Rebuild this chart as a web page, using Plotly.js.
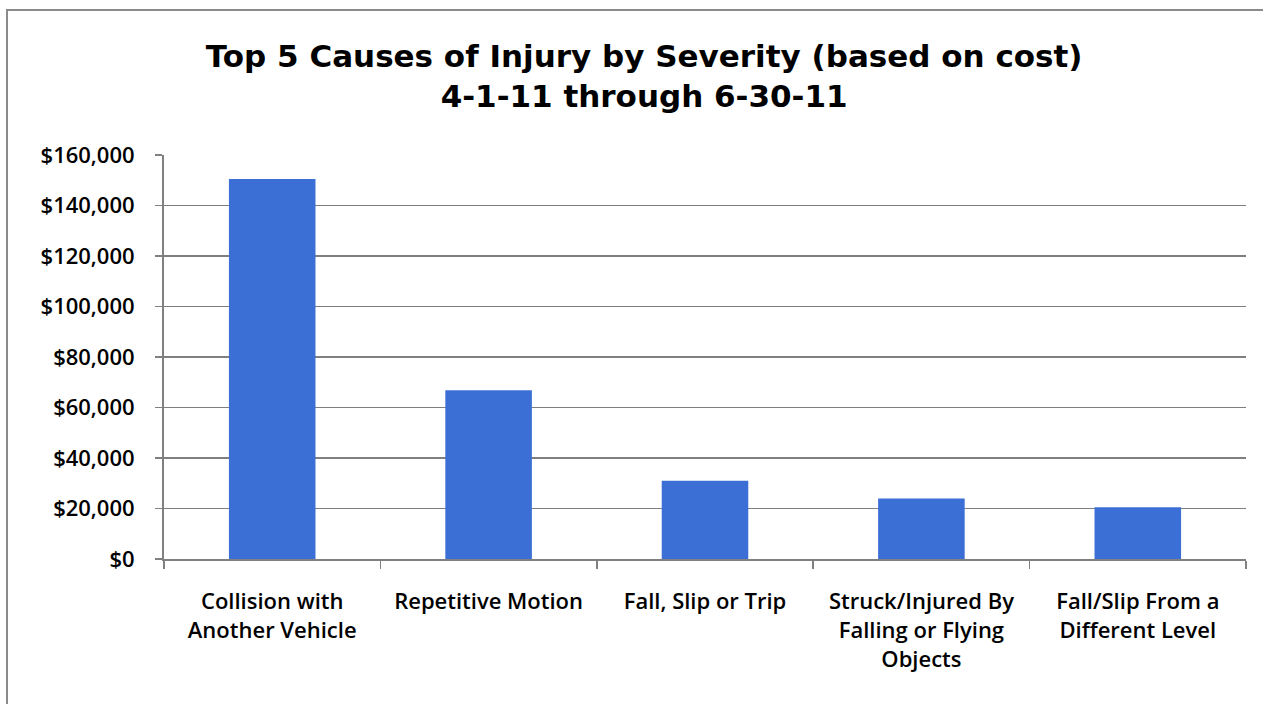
<!DOCTYPE html>
<html>
<head>
<meta charset="utf-8">
<script src="https://cdn.plot.ly/plotly-3.0.1.min.js"></script>
<style>
  html, body { margin: 0; padding: 0; background: #ffffff; overflow: hidden; }
  #chart { width: 1263px; height: 704px; }
  #frame { position: absolute; left: 6px; top: 9px; width: 1300px; height: 800px;
           border: 2px solid #8a8a8a; pointer-events: none; }
</style>
</head>
<body>
<div id="chart"></div>
<div id="frame"></div>
<script>
const categories = [
  "Collision with<br>Another Vehicle",
  "Repetitive Motion",
  "Fall, Slip or Trip",
  "Struck/Injured By<br>Falling or Flying<br>Objects",
  "Fall/Slip From a<br>Different Level"
];
const costs = [150500, 66800, 31000, 24000, 20500];
const yTickValues = [0, 20000, 40000, 60000, 80000, 100000, 120000, 140000, 160000];
const yTickLabels = ["$0", "$20,000", "$40,000", "$60,000", "$80,000", "$100,000", "$120,000", "$140,000", "$160,000"];
const titleText = "Top 5 Causes of Injury by Severity (based on cost)<br>4-1-11 through 6-30-11";

const trace = {
  type: "bar",
  x: categories,
  y: costs,
  marker: { color: "#3c6fd5", line: { width: 0 } },
  hoverinfo: "x+y"
};

const layout = {
  width: 1263,
  height: 704,
  paper_bgcolor: "#ffffff",
  plot_bgcolor: "#ffffff",
  margin: { l: 164, r: 17, t: 155, b: 145 },
  bargap: 0.6,
  showlegend: false,
  title: {
    text: titleText,
    font: { family: "DejaVu Sans, sans-serif", size: 31, color: "#000000", weight: "bold", lineposition: "none" },
    x: 0.51, xanchor: "center",
    y: 1 - 67 / 704, yanchor: "top", yref: "container"
  },
  xaxis: {
    type: "category",
    showgrid: false,
    showline: true,
    linecolor: "#808080",
    linewidth: 2,
    ticks: "outside",
    tickson: "boundaries",
    ticklen: 8,
    tickcolor: "#808080",
    tickwidth: 1.5,
    ticklabelstandoff: 22,
    tickfont: { family: "Open Sans, sans-serif", size: 22, color: "#000000", weight: 600 },
    fixedrange: true
  },
  yaxis: {
    range: [0, 160000],
    tickmode: "array",
    tickvals: yTickValues,
    ticktext: yTickLabels,
    showgrid: true,
    gridcolor: "#7f7f7f",
    gridwidth: 1.5,
    showline: true,
    linecolor: "#808080",
    linewidth: 2,
    ticks: "outside",
    ticklen: 7,
    tickcolor: "#808080",
    tickwidth: 1.5,
    ticklabelstandoff: 16,
    zeroline: false,
    tickfont: { family: "Open Sans, sans-serif", size: 22, color: "#000000", weight: 600 },
    fixedrange: true
  }
};

Plotly.newPlot("chart", [trace], layout, { displayModeBar: false, staticPlot: true });
</script>
</body>
</html>
